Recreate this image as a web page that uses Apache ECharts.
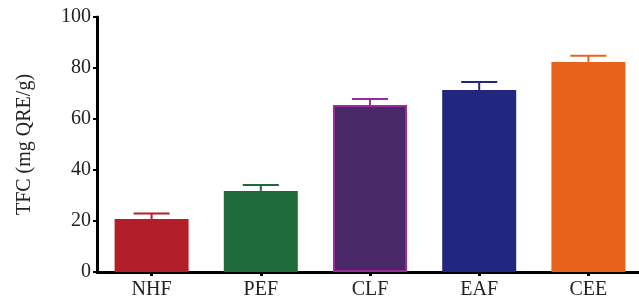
<!DOCTYPE html>
<html>
<head>
<meta charset="utf-8">
<script src="https://cdn.jsdelivr.net/npm/echarts@6/dist/echarts.min.js"></script>
<style>
  html, body { margin: 0; padding: 0; background: #fff; }
  #eChart { width: 639px; height: 297px; }
</style>
</head>
<body>
<div id="eChart"></div>
<script>
// data
var categories = ['NHF', 'PEF', 'CLF', 'EAF', 'CEE'];
var tfcMean = [20.8, 31.8, 65.5, 71.4, 82.4];
var tfcErr = [2.1, 2.3, 2.3, 3.1, 2.4];
var barColors = ['#B21F28', '#1F6A39', '#4A2767', '#22267F', '#E8621A'];
var barBorders = ['#B21F28', '#1F6A39', '#9C2C9E', '#22267F', '#E8621A'];

var font = '"Liberation Serif", "Times New Roman", serif';

var chart = echarts.init(document.getElementById('eChart'));

var barData = tfcMean.map(function (v, i) {
  return {
    value: v,
    itemStyle: { color: barColors[i], borderColor: barBorders[i], borderWidth: i === 2 ? 2 : 0 }
  };
});

var errData = tfcMean.map(function (v, i) {
  return [i, v, v + tfcErr[i]];
});

var option = {
  animation: false,
  grid: { left: 97, top: 17, width: 546, bottom: 25, containLabel: false, outerBoundsMode: 'none' },
  xAxis: {
    type: 'category',
    data: categories,
    axisLine: { lineStyle: { color: '#000', width: 3 } },
    axisTick: { show: true, alignWithLabel: true, length: 4, lineStyle: { color: '#000', width: 3 } },
    axisLabel: { color: '#222', fontFamily: font, fontSize: 20, margin: 8 },
    splitLine: { show: false }
  },
  yAxis: {
    type: 'value',
    min: 0,
    max: 100,
    interval: 20,
    name: 'TFC (mg QRE/g)',
    nameLocation: 'middle',
    nameGap: 62,
    nameTextStyle: { color: '#222', fontFamily: font, fontSize: 20 },
    axisLine: { show: true, lineStyle: { color: '#000', width: 3 } },
    axisTick: { show: true, length: 4, lineStyle: { color: '#000', width: 2 } },
    axisLabel: { color: '#222', fontFamily: font, fontSize: 20, margin: 6 },
    splitLine: { show: false }
  },
  series: [
    {
      name: 'TFC',
      type: 'bar',
      barWidth: 74,
      data: barData
    },
    {
      name: 'error',
      type: 'custom',
      data: errData,
      encode: { x: 0, y: [1, 2] },
      z: 3,
      renderItem: function (params, api) {
        var i = api.value(0);
        var lo = api.coord([i, api.value(1)]);
        var hi = api.coord([i, api.value(2)]);
        var half = 18;
        var color = barBorders[i];
        return {
          type: 'group',
          children: [
            {
              type: 'line',
              shape: { x1: hi[0], y1: lo[1], x2: hi[0], y2: hi[1] },
              style: { stroke: color, lineWidth: 2 }
            },
            {
              type: 'line',
              shape: { x1: hi[0] - half, y1: hi[1], x2: hi[0] + half, y2: hi[1] },
              style: { stroke: color, lineWidth: 2 }
            }
          ]
        };
      }
    }
  ]
};

chart.setOption(option);
</script>
</body>
</html>
